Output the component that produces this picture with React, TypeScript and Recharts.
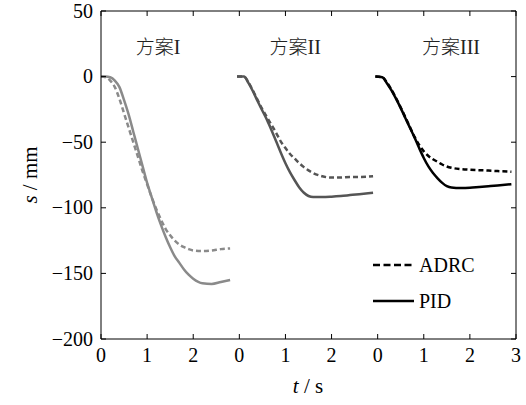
import { LineChart, Line, XAxis, YAxis, ReferenceDot } from 'recharts';

// local time samples (s) for each scheme
const timeI = [0, 0.1, 0.2, 0.3, 0.4, 0.5, 0.6, 0.7, 0.8, 0.9, 1.0, 1.1, 1.2, 1.3, 1.4, 1.5, 1.6, 1.7, 1.8, 1.9, 2.0, 2.2, 2.4, 2.6, 2.8];
const pidI = [0, 0, -0.5, -3, -8, -18, -29, -42, -55, -68, -81, -92, -103, -113, -122, -130, -137, -142, -147, -151, -154, -157.5, -158, -156.5, -155];
const adrcI = [0, -0.5, -3, -8, -17, -28, -39, -50, -61, -72, -82, -92, -101, -109, -116, -121, -125, -128, -130, -131.5, -132.5, -133, -132.5, -131.5, -131];

const timeII = [-0.05, 0.1, 0.2, 0.3, 0.4, 0.5, 0.6, 0.7, 0.8, 0.9, 1.0, 1.1, 1.2, 1.3, 1.4, 1.5, 1.6, 1.8, 2.0, 2.2, 2.4, 2.6, 2.9];
const pidII = [0, 0, -5, -11.5, -19, -26, -33, -41, -49.5, -58, -66, -73, -79, -84.5, -88.5, -91, -91.8, -91.8, -91.5, -91, -90.3, -89.6, -88.6];
const adrcII = [0, 0, -4.5, -11, -18, -25, -31, -37, -43, -49.5, -54.5, -59, -62.5, -66, -69, -71.5, -73.5, -76, -77, -77, -76.5, -76.5, -76];

const timeIII = [-0.05, 0.1, 0.2, 0.3, 0.4, 0.5, 0.6, 0.7, 0.8, 0.9, 1.0, 1.1, 1.2, 1.3, 1.4, 1.5, 1.6, 1.8, 2.0, 2.2, 2.4, 2.6, 2.9];
const pidIII = [0, -0.5, -5, -10.5, -17, -24, -31.5, -39, -46.5, -54.5, -62, -68.5, -73.5, -77.5, -81, -83.5, -84.6, -85, -84.8, -84.2, -83.6, -83, -82];
const adrcIII = [0, -0.5, -4.5, -10, -16.5, -23.5, -31, -38.5, -46, -52, -57, -60.5, -63, -65, -67, -68.5, -69.5, -70.5, -71, -71.3, -71.6, -72, -72.5];

// the three panels share one x axis, each shifted by 3 s
const offsets = [0, 3, 6];
const xTicks = [0, 1, 2, 3, 4, 5, 6, 7, 8, 9];
const xTickLabels = ['0', '1', '2', '0', '1', '2', '0', '1', '2', '3'];
const yTicks = [-200, -150, -100, -50, 0, 50];

const schemeNames = ['方案', '方案', '方案'];
const schemeNumerals = ['I', 'II', 'III'];
const schemeLabelX = [1.24, 4.21, 7.59];
const schemeLabelY = 22;

const legendNames = ['ADRC', 'PID'];

const colors = ['#8a8a8a', '#555555', '#000000'];

const FONT = '"Liberation Serif", "Times New Roman", serif';

const toSeries = (times: number[], vals: number[], off: number) =>
  times.map((t, i) => ({ x: t + off, v: vals[i] }));

const series = [
  { pid: toSeries(timeI, pidI, offsets[0]), adrc: toSeries(timeI, adrcI, offsets[0]) },
  { pid: toSeries(timeII, pidII, offsets[1]), adrc: toSeries(timeII, adrcII, offsets[1]) },
  { pid: toSeries(timeIII, pidIII, offsets[2]), adrc: toSeries(timeIII, adrcIII, offsets[2]) },
];

const fmtY = (v: number) => (v < 0 ? `\u2212${Math.abs(v)}` : `${v}`);

function BottomTick({ x, y, payload }: any) {
  return (
    <g>
      <line x1={x} x2={x} y1={y} y2={y - 5} stroke="#000" />
      <text x={x} y={y + 23} textAnchor="middle" fontSize={20} fontFamily={FONT} fill="#000">
        {xTickLabels[payload.value]}
      </text>
    </g>
  );
}

function TopTick({ x, y }: any) {
  return <line x1={x} x2={x} y1={y} y2={y + 5} stroke="#000" />;
}

function LeftTick({ x, y, payload }: any) {
  return (
    <g>
      <line x1={x} x2={x + 5} y1={y} y2={y} stroke="#000" />
      <text x={x - 8} y={y + 6.5} textAnchor="end" fontSize={20} fontFamily={FONT} fill="#000">
        {fmtY(payload.value)}
      </text>
    </g>
  );
}

function RightTick({ x, y }: any) {
  return <line x1={x} x2={x - 5} y1={y} y2={y} stroke="#000" />;
}

function LegendBox() {
  return (
    <div
      style={{
        position: 'absolute',
        left: 373,
        top: 247,
        fontFamily: FONT,
        fontSize: 20,
        color: '#000',
        lineHeight: '36px',
      }}
    >
      {legendNames.map((n, i) => (
        <div key={n} style={{ display: 'flex', alignItems: 'center' }}>
          <svg width={41} height={6}>
            <line
              x1={0}
              x2={41}
              y1={3}
              y2={3}
              stroke="#000"
              strokeWidth={2.5}
              strokeDasharray={i === 0 ? '7 3.5' : undefined}
            />
          </svg>
          <span style={{ marginLeft: 5 }}>{n}</span>
        </div>
      ))}
    </div>
  );
}

export default function App() {
  return (
    <div style={{ position: 'absolute', left: 0, top: 0, width: 526, height: 405, background: '#fff' }}>
      <LineChart width={526} height={405} margin={{ top: 6, right: 5, bottom: 36, left: 41 }}>
        <XAxis
          dataKey="x"
          type="number"
          domain={[0, 9]}
          ticks={xTicks}
          allowDataOverflow
          height={30}
          tickSize={0}
          tickMargin={0}
          tick={<BottomTick />}
          axisLine={{ stroke: '#000' }}
          label={{
            content: () => (
              <text x={308} y={393} textAnchor="middle" fontSize={21} fontFamily={FONT} fill="#000">
                <tspan fontStyle="italic">t</tspan> / s
              </text>
            ),
          }}
        />
        <XAxis
          xAxisId="top"
          orientation="top"
          dataKey="x"
          type="number"
          domain={[0, 9]}
          ticks={xTicks}
          allowDataOverflow
          height={5}
          tickSize={0}
          tickMargin={0}
          tick={<TopTick />}
          axisLine={{ stroke: '#000' }}
        />
        <YAxis
          type="number"
          domain={[-200, 50]}
          ticks={yTicks}
          allowDataOverflow
          width={60}
          tickSize={0}
          tickMargin={0}
          tick={<LeftTick />}
          axisLine={{ stroke: '#000' }}
          label={{
            content: () => (
              <text
                x={37}
                y={175}
                transform="rotate(-90 37 175)"
                textAnchor="middle"
                fontSize={21}
                fontFamily={FONT}
                fill="#000"
              >
                <tspan fontStyle="italic">s</tspan> / mm
              </text>
            ),
          }}
        />
        <YAxis
          yAxisId="right"
          orientation="right"
          type="number"
          domain={[-200, 50]}
          ticks={yTicks}
          allowDataOverflow
          width={5}
          tickSize={0}
          tickMargin={0}
          tick={<RightTick />}
          axisLine={{ stroke: '#000' }}
        />

        {series.map((s, i) => (
          <Line
            key={`adrc${i}`}
            data={s.adrc}
            dataKey="v"
            type="monotone"
            stroke={colors[i]}
            strokeWidth={2.5}
            strokeDasharray="5 3"
            dot={false}
            isAnimationActive={false}
            name="ADRC"
          />
        ))}
        {series.map((s, i) => (
          <Line
            key={`pid${i}`}
            data={s.pid}
            dataKey="v"
            type="monotone"
            stroke={colors[i]}
            strokeWidth={2.5}
            dot={false}
            isAnimationActive={false}
            name="PID"
          />
        ))}

        {schemeLabelX.map((lx, i) => (
          <ReferenceDot
            key={`lbl${i}`}
            x={lx}
            y={schemeLabelY}
            r={0}
            fill="none"
            stroke="none"
            label={{
              content: (p: any) => {
                const vb = p.viewBox || {};
                const cx = (vb.x ?? 0) + (vb.width ?? 0) / 2;
                const cy = (vb.y ?? 0) + (vb.height ?? 0) / 2;
                return (
                  <text x={cx} y={cy + 6} textAnchor="middle" fontSize={19} fill="#222">
                    <tspan fontFamily='"Noto Sans CJK SC", sans-serif' fontWeight={300}>{schemeNames[i]}</tspan>
                    <tspan fontFamily={FONT} fontSize={20}>{schemeNumerals[i]}</tspan>
                  </text>
                );
              },
            }}
          />
        ))}
      </LineChart>
      <LegendBox />
    </div>
  );
}
